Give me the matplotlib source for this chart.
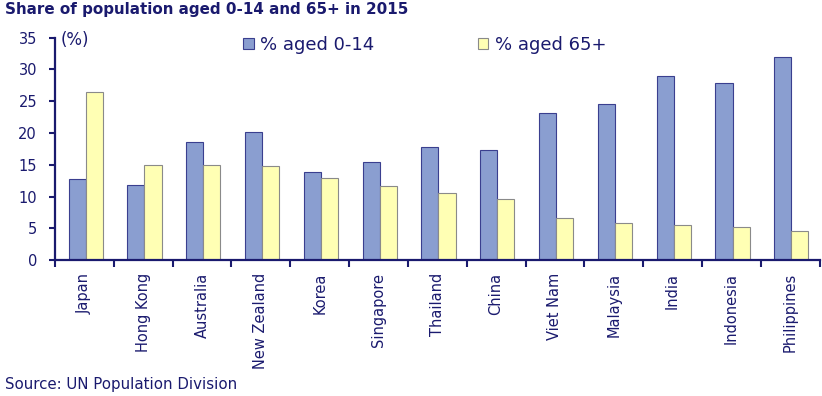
import numpy as np
import matplotlib
matplotlib.use('Agg')
import matplotlib.pyplot as plt

# Data
countries = ['Japan', 'Hong Kong', 'Australia', 'New Zealand', 'Korea',
             'Singapore', 'Thailand', 'China', 'Viet Nam', 'Malaysia',
             'India', 'Indonesia', 'Philippines']
aged_0_14 = [12.8, 11.9, 18.6, 20.2, 13.9, 15.5, 17.8, 17.3, 23.1, 24.6,
             28.9, 27.8, 32.0]
aged_65 = [26.4, 15.0, 15.0, 14.8, 13.0, 11.6, 10.5, 9.6, 6.7, 5.8,
           5.6, 5.2, 4.6]

NAVY = '#1a1a6e'
BLUE = '#8a9ed0'
YELLOW = '#ffffb4'

plt.rcParams['font.family'] = ['DejaVu Sans']

fig = plt.figure(figsize=(8.22, 3.96), dpi=100)
ax = fig.add_axes([0.067, 0.343, 0.930, 0.562])

x = np.arange(len(countries))
w = 0.29
ax.bar(x - w / 2 + 0.02, aged_0_14, w, color=BLUE, edgecolor='#3a3f8f',
       linewidth=0.8, label='% aged 0-14')
ax.bar(x + w / 2 + 0.02, aged_65, w, color=YELLOW, edgecolor='#8a8a8a',
       linewidth=0.8, label='% aged 65+')

ax.set_xlim(-0.5, len(countries) - 0.5)
ax.set_ylim(0, 35)
ax.set_yticks(range(0, 36, 5))

# boundary ticks without labels, country names on minor ticks
ax.set_xticks(np.arange(-0.5, len(countries), 1.0))
ax.set_xticklabels([])
ax.set_xticks(x, minor=True)
ax.set_xticklabels(countries, minor=True, rotation=90, fontsize=10.5,
                   color=NAVY, va='top')
ax.tick_params(axis='x', which='major', direction='out', length=5,
               width=1.5, color=NAVY)
ax.tick_params(axis='x', which='minor', length=0, pad=9)
ax.tick_params(axis='y', direction='out', length=4, width=1.5, color=NAVY,
               labelsize=10.5, labelcolor=NAVY, pad=9)

for s in ['top', 'right']:
    ax.spines[s].set_visible(False)
for s in ['left', 'bottom']:
    ax.spines[s].set_color(NAVY)
    ax.spines[s].set_linewidth(1.6)

ax.text(0.007, 0.99, '(%)', transform=ax.transAxes, fontsize=12,
        color=NAVY, va='center', ha='left')

leg = ax.legend(loc='upper left', bbox_to_anchor=(0.225, 1.08), ncol=2,
                frameon=False, fontsize=13, handlelength=0.6,
                handleheight=0.6, handletextpad=0.35, columnspacing=5.7)
for t in leg.get_texts():
    t.set_color(NAVY)

fig.text(0.006, 0.977, 'Share of population aged 0-14 and 65+ in 2015',
         fontsize=10.9, fontweight='bold', color=NAVY, va='center',
         ha='left')
fig.text(0.006, 0.028, 'Source: UN Population Division', fontsize=10.8,
         color=NAVY, va='center', ha='left')

fig.savefig('out.png', dpi=100)
